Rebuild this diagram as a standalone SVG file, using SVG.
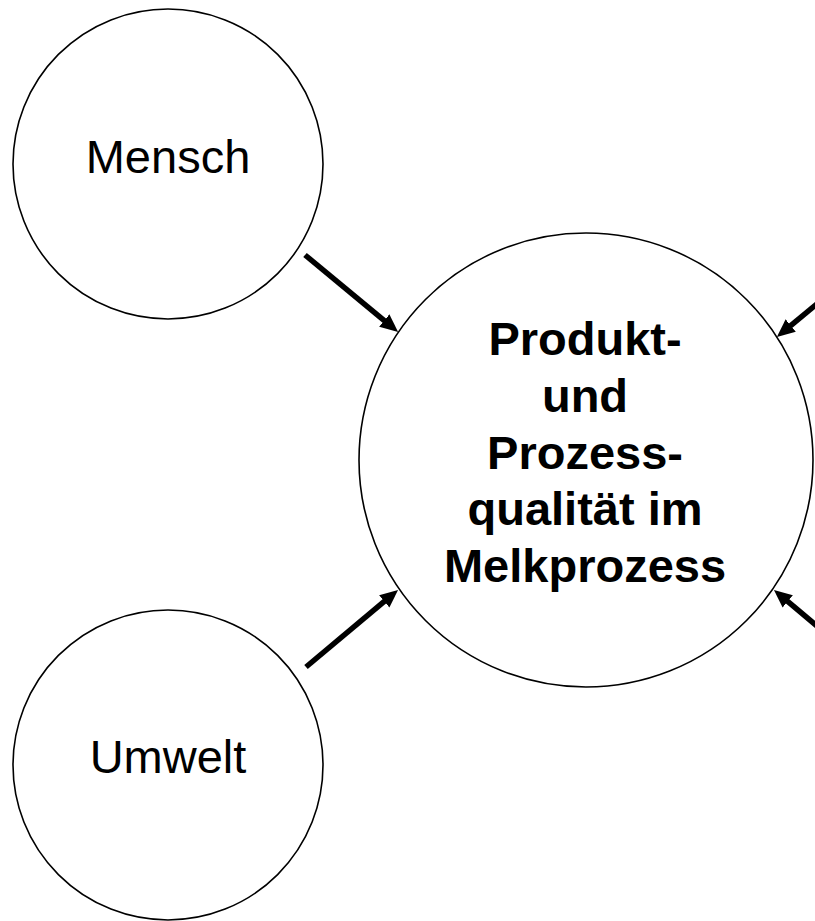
<svg xmlns="http://www.w3.org/2000/svg" width="815" height="921" viewBox="0 0 815 921">
<defs>
<style>
.node circle{fill:#fff;stroke:#000;stroke-width:1.6}
.lbl{font-family:"Liberation Sans",Arial,sans-serif;font-size:47px;fill:#000;text-anchor:middle}
.bold{font-weight:bold}
.conn line{stroke:#000;stroke-width:5.5;marker-end:url(#ah)}
</style>
<marker id="ah" markerUnits="userSpaceOnUse" markerWidth="18" markerHeight="16" refX="2" refY="8" orient="auto">
<path d="M0,0 L18,8 L0,16 z" fill="#000"/>
</marker>
</defs>
<rect width="815" height="921" fill="#fff"/>
<g id="mensch" class="node">
<circle cx="168" cy="164" r="155"/>
<text class="lbl" x="168" y="173">Mensch</text>
</g>
<g id="umwelt" class="node">
<circle cx="168" cy="765" r="155"/>
<text class="lbl" x="168" y="773">Umwelt</text>
</g>
<g id="zentrum" class="node">
<circle cx="586" cy="460" r="227"/>
<text class="lbl bold" x="585" y="355">Produkt-</text>
<text class="lbl bold" x="585" y="412">und</text>
<text class="lbl bold" x="585" y="469">Prozess-</text>
<text class="lbl bold" x="585" y="525">qualität im</text>
<text class="lbl bold" x="585" y="582">Melkprozess</text>
</g>
<g id="connectors" class="conn">
<line x1="305" y1="255" x2="385.8" y2="321.8"/>
<line x1="306" y1="667" x2="385.8" y2="600.2"/>
<line x1="870" y1="260" x2="789.2" y2="326.8"/>
<line x1="866" y1="667" x2="786.2" y2="600.2"/>
</g>
</svg>
